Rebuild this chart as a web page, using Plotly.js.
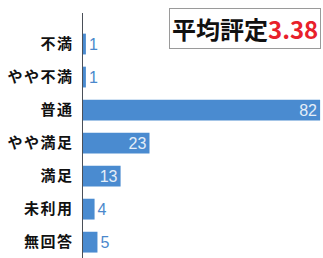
<!DOCTYPE html>
<html>
<head>
<meta charset="utf-8">
<script src="https://cdn.plot.ly/plotly-3.0.1.min.js"></script>
<style>
html,body{margin:0;padding:0;background:#fff;}
#chart{width:323px;height:258px;}
#chart .ytick text{letter-spacing:1.5px;}
</style>
</head>
<body>
<div id="chart"></div>
<script>
const categories = ["不満", "やや不満", "普通", "やや満足", "満足", "未利用", "無回答"];
const counts = [1, 1, 82, 23, 13, 4, 5];
const textPositions = ["outside", "outside", "inside", "inside", "inside", "outside", "outside"];
const averageLabel = "平均評定";
const averageValue = "3.38";

const trace = {
  type: "bar",
  orientation: "h",
  y: categories,
  x: counts,
  text: counts.map(String),
  textposition: textPositions,
  textangle: 0,
  constraintext: "none",
  insidetextanchor: "end",
  insidetextfont: {color: "#e4eef8", family: "Liberation Sans Narrow, Arial Narrow, sans-serif", size: 16},
  outsidetextfont: {color: "#4a88cc", family: "Liberation Sans Narrow, Arial Narrow, sans-serif", size: 16},
  marker: {color: "#4a8bd0"},
  cliponaxis: false,
  hoverinfo: "none"
};

const layout = {
  width: 323, height: 258,
  margin: {l: 83, r: 0, t: 13, b: 0},
  paper_bgcolor: "#ffffff",
  plot_bgcolor: "#ffffff",
  showlegend: false,
  bargap: 0.37,
  xaxis: {range: [0, 83], visible: false, showgrid: false, zeroline: false},
  yaxis: {
    type: "category",
    range: [6.48, -0.94],
    showline: true, linecolor: "#4a4f58", linewidth: 1.5,
    showgrid: false, zeroline: false,
    ticks: "", ticklabelstandoff: 5,
    tickfont: {family: "Noto Sans CJK JP", size: 15, color: "#111", weight: "bold"}
  },
  annotations: [{
    xref: "paper", yref: "paper", x: 0.99, y: 1.022, xanchor: "right", yanchor: "top",
    text: averageLabel + "<span style='color:#e8202a'>" + averageValue + "</span>",
    showarrow: false,
    font: {family: "Noto Sans CJK JP", size: 24, color: "#111", weight: "bold"},
    bordercolor: "#9a9a9a", borderwidth: 1, borderpad: 2, bgcolor: "#ffffff"
  }]
};

Plotly.newPlot("chart", [trace], layout, {staticPlot: true, displayModeBar: false});
</script>
</body>
</html>
